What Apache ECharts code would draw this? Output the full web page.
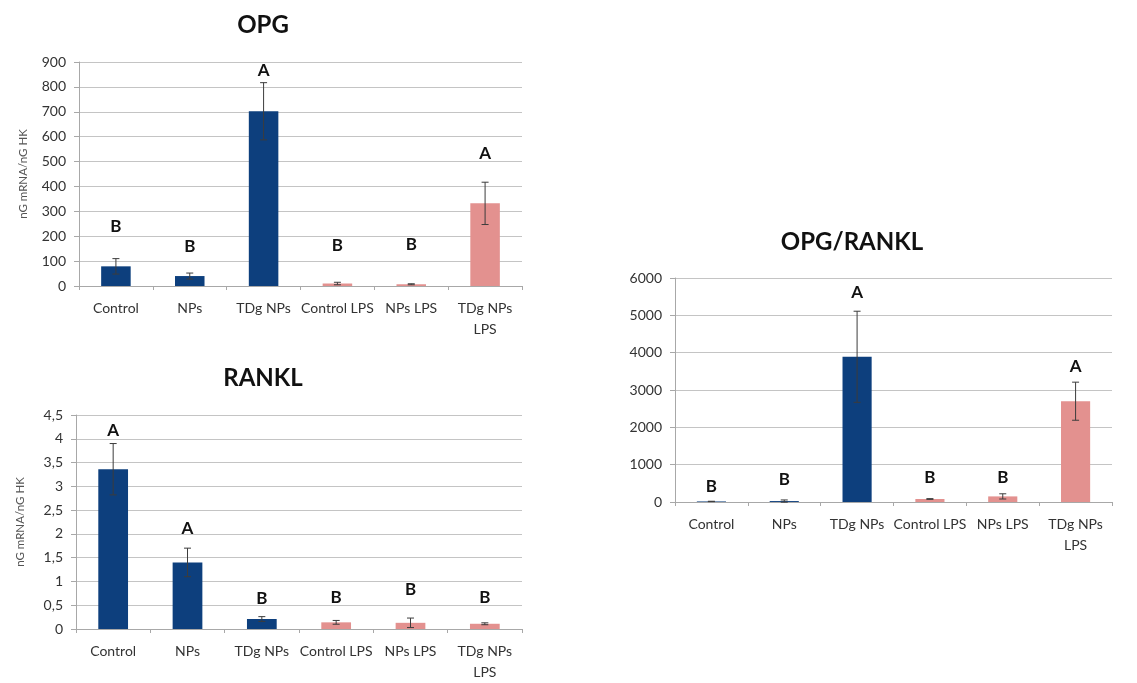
<!DOCTYPE html>
<html>
<head>
<meta charset="utf-8">
<script src="https://cdn.jsdelivr.net/npm/echarts@6/dist/echarts.min.js"></script>
<style>
  html, body { margin: 0; padding: 0; background: #fff; }
  #chart { width: 1137px; height: 683px; }
</style>
</head>
<body>
<div id="chart"></div>
<script>
// Treatment groups (the last three are LPS-stimulated)
const categories = ['Control', 'NPs', 'TDg NPs', 'Control LPS', 'NPs LPS', 'TDg NPs\nLPS'];

// OPG expression (nG mRNA / nG HK): mean, SD, significance letter and letter height
const opgMean = [79, 40, 702, 10, 7, 332];
const opgErr = [31, 12, 115, 5, 2, 85];
const opgLetters = ['B', 'B', 'A', 'B', 'B', 'A'];
const opgLetterAt = [237, 157, 866, 161, 167, 532];

// RANKL expression (nG mRNA / nG HK)
const ranklMean = [3.36, 1.40, 0.21, 0.14, 0.13, 0.11];
const ranklErr = [0.54, 0.30, 0.05, 0.04, 0.10, 0.02];
const ranklLetters = ['A', 'A', 'B', 'B', 'B', 'B'];
const ranklLetterAt = [4.17, 2.11, 0.65, 0.67, 0.83, 0.67];

// OPG/RANKL ratio
const ratioMean = [15, 25, 3890, 80, 150, 2700];
const ratioErr = [5, 30, 1220, 10, 70, 510];
const ratioLetters = ['B', 'B', 'A', 'B', 'B', 'A'];
const ratioLetterAt = [417, 614, 5598, 657, 657, 3622];

// Axis ranges
const opgAxis = { min: 0, max: 900, interval: 100 };
const ranklAxis = { min: 0, max: 4.5, interval: 0.5 };
const ratioAxis = { min: 0, max: 6000, interval: 1000 };

const NAVY = '#0d3f7d';
const PINK = '#e3918f';
const FONT = 'Lato, "Open Sans", sans-serif';
const TEXT = '#333';
const GRIDLINE = '#c4c4c4';

const grids = [
  { left: 79, top: 62, width: 443, height: 224 },
  { left: 76, top: 415, width: 446, height: 224 },
  { left: 675, top: 278, width: 437, height: 224 }
];

function xAxisFor(i) {
  return {
    type: 'category', gridIndex: i, data: categories,
    axisLine: { lineStyle: { color: '#a8a8a8', width: 1 } },
    axisTick: { show: true, length: 4, alignWithLabel: false, lineStyle: { color: '#a8a8a8' } },
    axisLabel: { color: TEXT, fontFamily: FONT, fontSize: 14, lineHeight: 21, margin: 12, interval: 0 }
  };
}

function yAxisFor(i, range, name, comma) {
  return {
    type: 'value', gridIndex: i, min: range.min, max: range.max, interval: range.interval,
    name: name, nameLocation: 'middle', nameGap: 50,
    nameTextStyle: { color: '#555', fontFamily: FONT, fontSize: 11.5 },
    axisLine: { show: true, lineStyle: { color: '#a8a8a8' } },
    axisTick: { show: true, length: 5, lineStyle: { color: '#a8a8a8' } },
    axisLabel: {
      color: TEXT, fontFamily: FONT, fontSize: 14, margin: 13,
      formatter: v => comma ? String(+v.toFixed(1)).replace('.', ',') : String(v)
    },
    splitLine: { lineStyle: { color: GRIDLINE, width: 1 } }
  };
}

function barSeries(i, means) {
  return {
    type: 'bar', xAxisIndex: i, yAxisIndex: i, barWidth: '40%',
    data: means.map((v, k) => ({ value: v, itemStyle: { color: k < 3 ? NAVY : PINK } })),
    z: 2
  };
}

function errorSeries(i, means, errs) {
  return {
    type: 'custom', xAxisIndex: i, yAxisIndex: i, z: 5,
    data: means.map((m, k) => [k, m - errs[k], m + errs[k]]),
    renderItem: function (params, api) {
      const lo = api.coord([api.value(0), api.value(1)]);
      const hi = api.coord([api.value(0), api.value(2)]);
      const cap = 3.5;
      const style = { stroke: '#3c3c3c', lineWidth: 1 };
      return {
        type: 'group',
        children: [
          { type: 'line', shape: { x1: hi[0], y1: hi[1], x2: lo[0], y2: lo[1] }, style: style },
          { type: 'line', shape: { x1: hi[0] - cap, y1: hi[1], x2: hi[0] + cap, y2: hi[1] }, style: style },
          { type: 'line', shape: { x1: lo[0] - cap, y1: lo[1], x2: lo[0] + cap, y2: lo[1] }, style: style }
        ]
      };
    }
  };
}

function letterSeries(i, letters, heights) {
  return {
    type: 'custom', xAxisIndex: i, yAxisIndex: i, z: 6,
    data: heights.map((h, k) => [k, h]),
    renderItem: function (params, api) {
      const p = api.coord([api.value(0), api.value(1)]);
      return {
        type: 'text',
        style: {
          x: p[0], y: p[1], text: letters[params.dataIndex],
          fill: '#111', font: 'bold 17px ' + FONT,
          textAlign: 'center', textVerticalAlign: 'middle'
        }
      };
    }
  };
}

function titleText(text, x, y) {
  return {
    type: 'text', x: x, y: y,
    style: { text: text, fill: '#111', font: 'bold 24px ' + FONT, align: 'center', verticalAlign: 'middle' }
  };
}

const chart = echarts.init(document.getElementById('chart'), null, { renderer: 'canvas' });
chart.setOption({
  animation: false,
  backgroundColor: '#fff',
  grid: grids,
  xAxis: [xAxisFor(0), xAxisFor(1), xAxisFor(2)],
  yAxis: [
    yAxisFor(0, opgAxis, 'nG mRNA/nG HK', false),
    yAxisFor(1, ranklAxis, 'nG mRNA/nG HK', true),
    yAxisFor(2, ratioAxis, '', false)
  ],
  graphic: [
    titleText('OPG', 263, 25),
    titleText('RANKL', 263, 378),
    titleText('OPG/RANKL', 852, 242)
  ],
  series: [
    barSeries(0, opgMean), errorSeries(0, opgMean, opgErr), letterSeries(0, opgLetters, opgLetterAt),
    barSeries(1, ranklMean), errorSeries(1, ranklMean, ranklErr), letterSeries(1, ranklLetters, ranklLetterAt),
    barSeries(2, ratioMean), errorSeries(2, ratioMean, ratioErr), letterSeries(2, ratioLetters, ratioLetterAt)
  ]
});
</script>
</body>
</html>
